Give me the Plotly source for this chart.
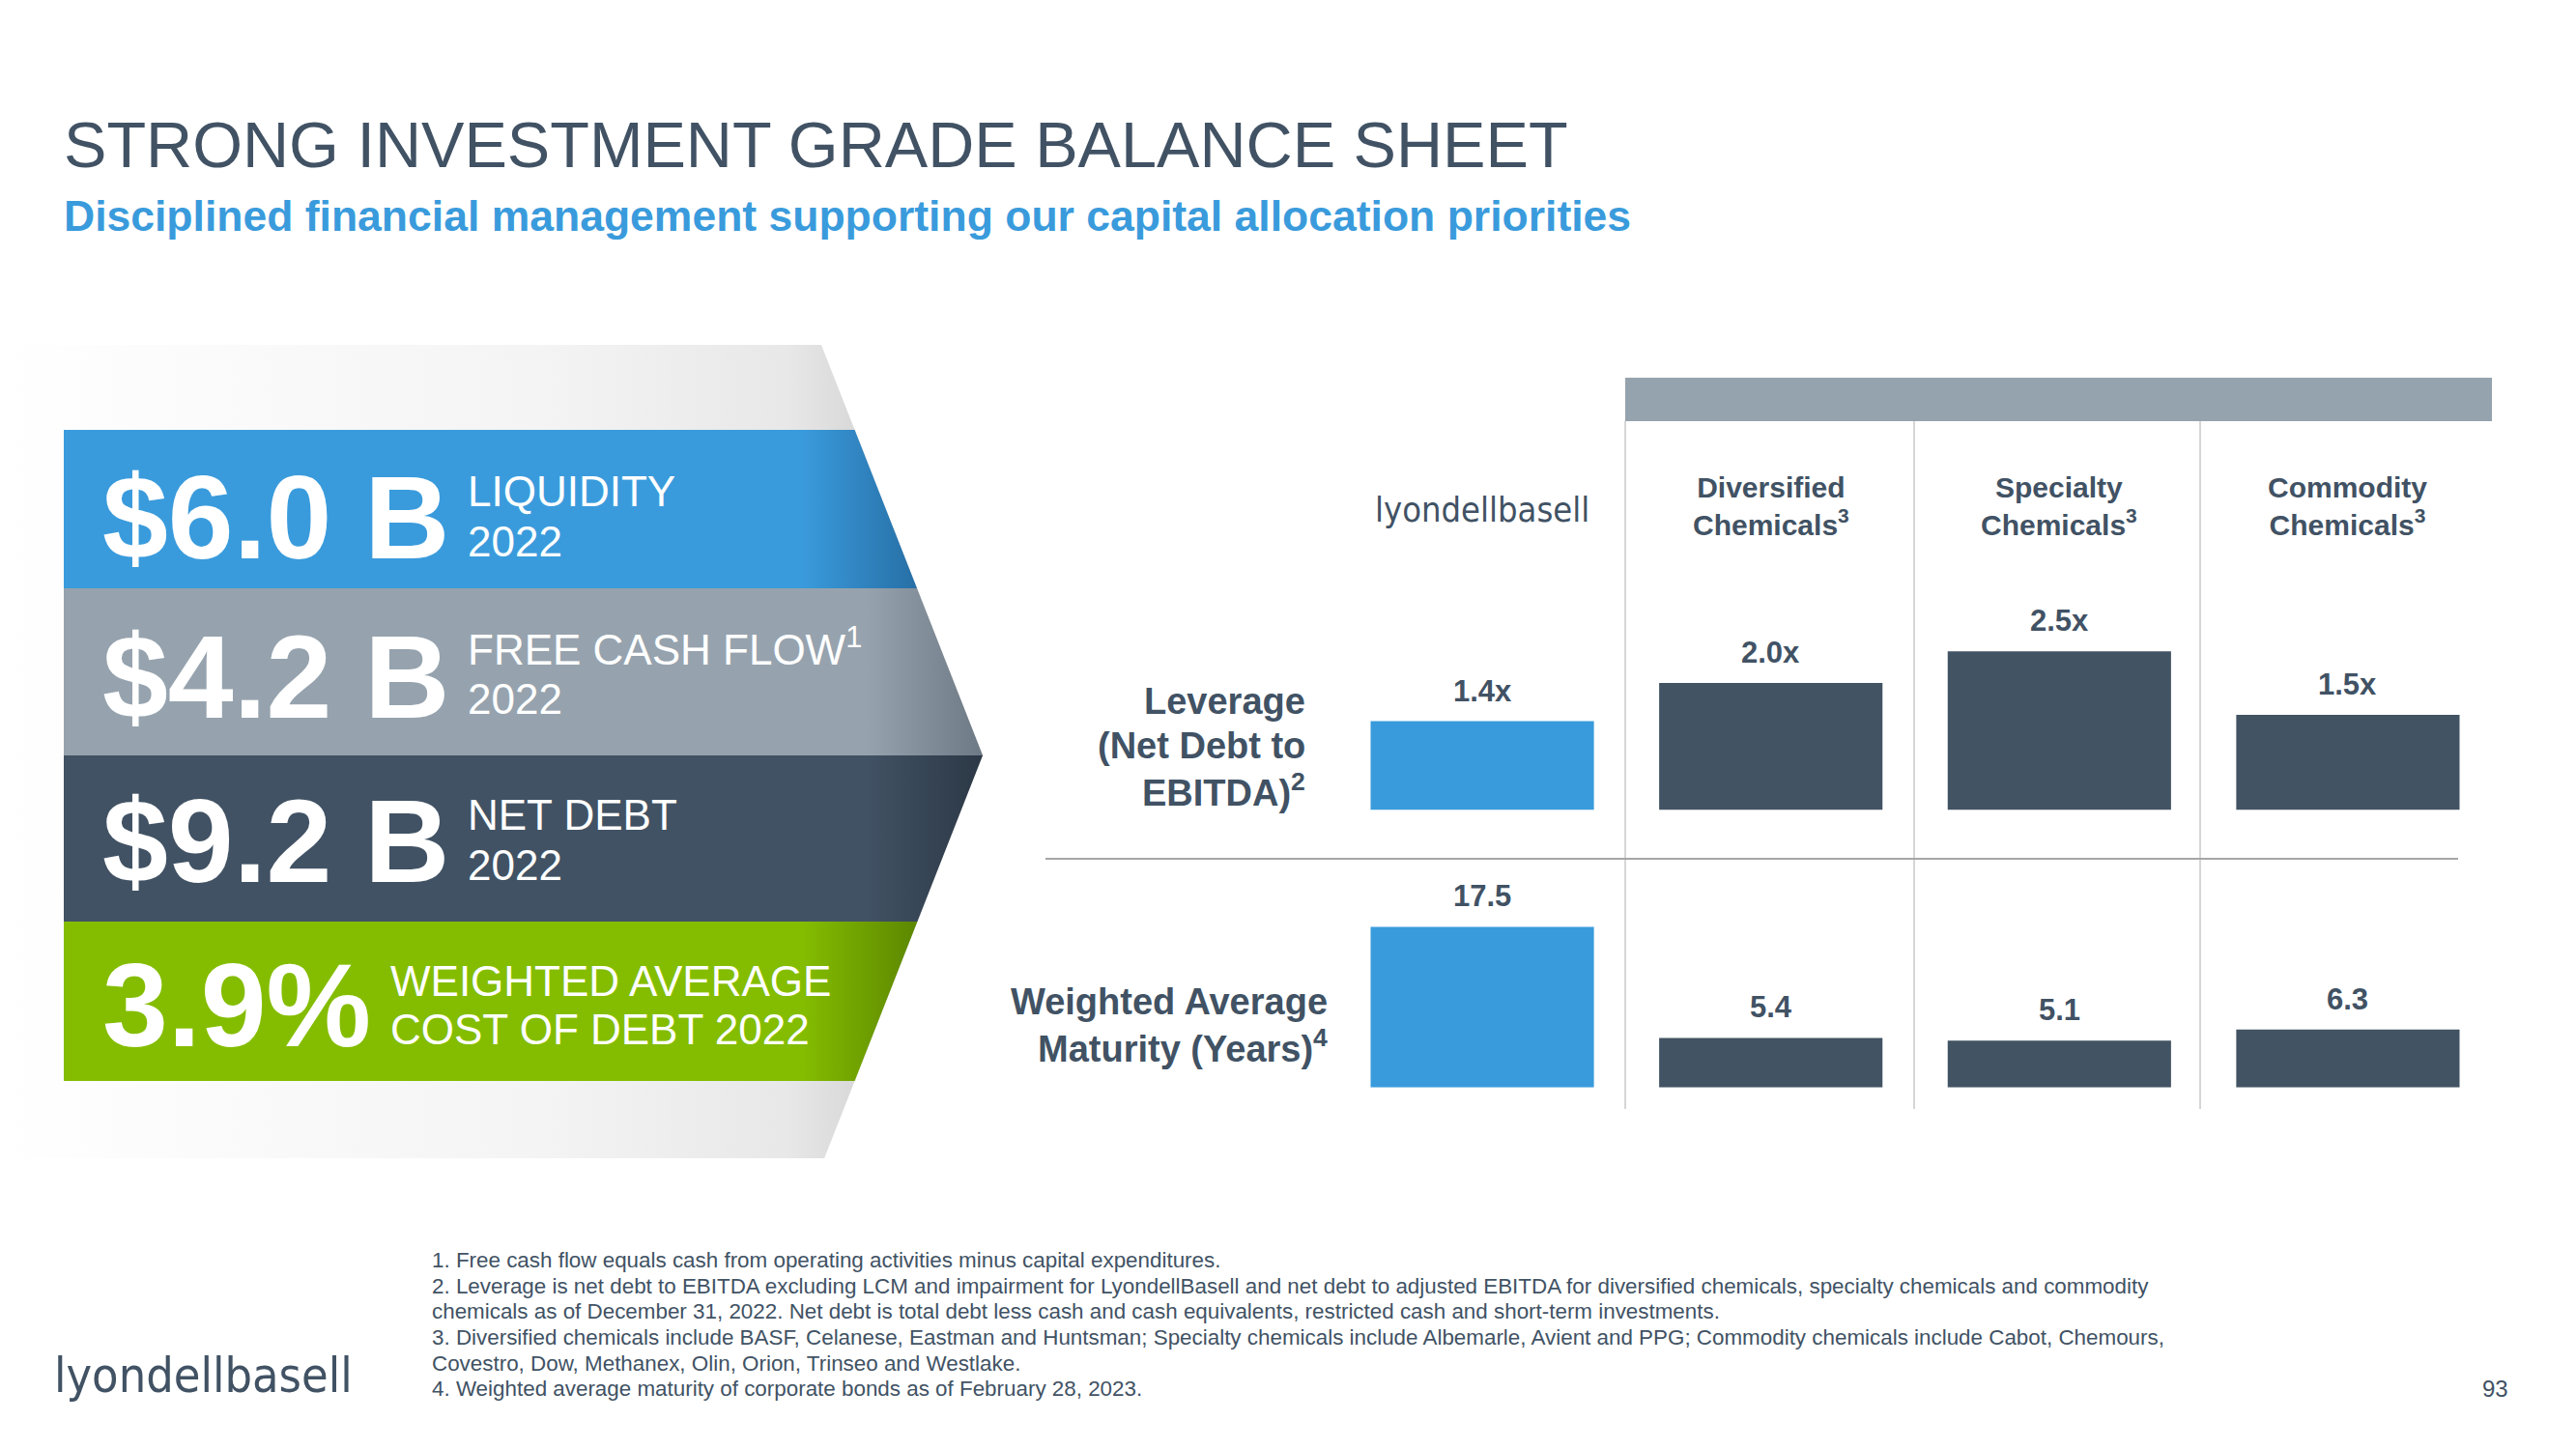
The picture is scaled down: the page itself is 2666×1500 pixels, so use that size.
import plotly.graph_objects as go

# ---------------- data ----------------
companies = ["LyondellBasell", "Diversified Chemicals", "Specialty Chemicals", "Commodity Chemicals"]
header_labels = ["lyondellbasell", "Diversified<br>Chemicals<sup>3</sup>",
                 "Specialty<br>Chemicals<sup>3</sup>", "Commodity<br>Chemicals<sup>3</sup>"]
leverage = [1.4, 2.0, 2.5, 1.5]          # Net debt to EBITDA (x)
maturity = [17.5, 5.4, 5.1, 6.3]          # Weighted average maturity (years)

kpi_values = ["$6.0 B", "$4.2 B", "$9.2 B", "3.9%"]
kpi_line1 = ["LIQUIDITY", "FREE CASH FLOW<sup>1</sup>", "NET DEBT", "WEIGHTED AVERAGE"]
kpi_line2 = ["2022", "2022", "2022", "COST OF DEBT 2022"]

title = "STRONG INVESTMENT GRADE BALANCE SHEET"
subtitle = "Disciplined financial management supporting our capital allocation priorities"
footnotes = [
    "1. Free cash flow equals cash from operating activities minus capital expenditures.",
    "2. Leverage is net debt to EBITDA excluding LCM and impairment for LyondellBasell and net debt to adjusted EBITDA for diversified chemicals, specialty chemicals and commodity",
    "chemicals as of December 31, 2022. Net debt is total debt less cash and cash equivalents, restricted cash and short-term investments.",
    "3. Diversified chemicals include BASF, Celanese, Eastman and Huntsman; Specialty chemicals include Albemarle, Avient and PPG; Commodity chemicals include Cabot, Chemours,",
    "Covestro, Dow, Methanex, Olin, Orion, Trinseo and Westlake.",
    "4. Weighted average maturity of corporate bonds as of February 28, 2023.",
]
page_number = "93"

# ---------------- style ----------------
W, H = 2666, 1500
BLUE = "#3a9bdc"
GRAY = "#96a3ae"
DARK = "#425363"
GREEN = "#84bd00"
TEXT = "#415264"
FONT = "Liberation Sans, Arial, sans-serif"
LOGO_FONT = "DejaVu Sans Condensed, DejaVu Sans, sans-serif"
bar_colors = [BLUE, DARK, DARK, DARK]

def pxx(x):
    return x / W

def pxy(y):
    return 1 - y / H

fig = go.Figure()

# ---------------- left KPI panel (decorative, pixel axis x3/y3) ----------------
tip_x, tip_y = 1017, 782
slope = (1017 - 850) / (782 - 357)

def edge(y):
    return tip_x - slope * abs(y - tip_y)

bg_top, bg_bot = 357, 1199
fig.add_trace(go.Scatter(
    x=[0, edge(bg_top), tip_x, edge(bg_bot), 0, 0],
    y=[bg_top, bg_top, tip_y, bg_bot, bg_bot, bg_top],
    mode="lines", line=dict(width=0), fill="toself",
    fillgradient=dict(type="horizontal", start=0, stop=tip_x,
                      colorscale=[[0, "#ffffff"], [0.55, "#f4f4f4"], [0.8, "#e8e8e8"], [0.9, "#d2d2d2"], [1, "#bdbdbd"]]),
    xaxis="x3", yaxis="y3", hoverinfo="skip", showlegend=False))

band_edges = [445, 609, 782, 954, 1119]
band_colors = [(BLUE, "#276fa6"), (GRAY, "#6d7984"), ("#415264", "#2c3846"), (GREEN, "#5c8700")]
band_left = 66
for i, (c0, c1) in enumerate(band_colors):
    y0, y1 = band_edges[i], band_edges[i + 1]
    xs = [band_left, edge(y0)]
    ys = [y0, y0]
    if y0 < tip_y < y1:
        xs.append(tip_x); ys.append(tip_y)
    xs += [edge(y1), band_left, band_left]
    ys += [y1, y1, y0]
    xr = max(xs)
    fig.add_trace(go.Scatter(
        x=xs, y=ys, mode="lines", line=dict(width=0), fill="toself",
        fillgradient=dict(type="horizontal", start=band_left, stop=xr,
                          colorscale=[[0, c0], [(xr - 120 - band_left) / (xr - band_left), c0], [1, c1]]),
        xaxis="x3", yaxis="y3", hoverinfo="skip", showlegend=False))

annotations = []

def txt(x, y, text, size, color=TEXT, bold=False, xanchor="left", yanchor="middle", family=FONT, **kw):
    annotations.append(dict(
        x=x, y=y, xref="x3", yref="y3", text=text, showarrow=False,
        xanchor=xanchor, yanchor=yanchor,
        font=dict(family=family, size=size, color=color, weight=700 if bold else 400), **kw))

kpi_centers = [532, 697, 867, 1037]
kpi_sub_x = [482, 482, 482, 402]
kpi_sub_dy = [(-24, 28), (-28, 26), (-24, 28), (-22, 28)]
for i in range(4):
    yc = kpi_centers[i]
    txt(104, yc + 4, kpi_values[i], 122, color="white", bold=True)
    txt(kpi_sub_x[i], yc + kpi_sub_dy[i][0], kpi_line1[i], 44, color="white")
    txt(kpi_sub_x[i], yc + kpi_sub_dy[i][1], kpi_line2[i], 44, color="white")

# titles
txt(64, 150, title, 66.6, color=TEXT)
txt(64, 223, subtitle, 44.5, color=BLUE, bold=True)

# row labels
txt(1353, 726, "Leverage", 38, bold=True, xanchor="right")
txt(1353, 772, "(Net Debt to", 38, bold=True, xanchor="right")
txt(1353, 818, "EBITDA)<sup>2</sup>", 38, bold=True, xanchor="right")
txt(1376, 1037, "Weighted Average", 38, bold=True, xanchor="right")
txt(1376, 1083, "Maturity (Years)<sup>4</sup>", 38, bold=True, xanchor="right")

# footnotes
fy = [1304, 1331, 1357, 1384, 1411, 1437]
for line, y in zip(footnotes, fy):
    txt(445, y, line, 22.4)
txt(2598, 1437, page_number, 24, xanchor="right")

# bottom-left logo
txt(54, 1424, "lyondellbasell", 50, family=LOGO_FONT)

# ---------------- column headers ----------------
header_dx = [0, 0, -0.02, 0.01]
for i, lab in enumerate(header_labels):
    if i == 0:
        annotations.append(dict(x=companies[i], y=527, xref="x", yref="y3", text=lab, showarrow=False,
                                xanchor="center", yanchor="middle",
                                font=dict(family=LOGO_FONT, size=36, color=TEXT)))
    else:
        annotations.append(dict(x=companies[i], y=524, xref="x", yref="y3", text=lab, showarrow=False,
                                xanchor="center", yanchor="middle", align="center",
                                font=dict(family=FONT, size=30, color=TEXT, weight=700)))

# ---------------- bars ----------------
fig.add_trace(go.Bar(x=companies, y=leverage, marker=dict(color=bar_colors, line=dict(width=0)),
                     width=0.774, xaxis="x", yaxis="y", showlegend=False, hoverinfo="skip"))
fig.add_trace(go.Bar(x=companies, y=maturity, marker=dict(color=bar_colors, line=dict(width=0)),
                     width=0.774, xaxis="x2", yaxis="y2", showlegend=False, hoverinfo="skip"))

for c, v in zip(companies, leverage):
    annotations.append(dict(x=c, y=v, xref="x", yref="y", text=f"{v:.1f}x", showarrow=False,
                            xanchor="center", yanchor="bottom", yshift=12,
                            font=dict(family=FONT, size=31, color=TEXT, weight=700)))
for c, v in zip(companies, maturity):
    annotations.append(dict(x=c, y=v, xref="x2", yref="y2", text=f"{v:.1f}", showarrow=False,
                            xanchor="center", yanchor="bottom", yshift=12,
                            font=dict(family=FONT, size=31, color=TEXT, weight=700)))

# ---------------- table lines / header bar ----------------
shapes = [
    dict(type="rect", xref="paper", yref="paper", x0=pxx(1682), x1=pxx(2579), y0=pxy(436), y1=pxy(391),
         fillcolor="#95a3ae", line=dict(width=0), layer="below"),
    dict(type="line", xref="paper", yref="paper", x0=pxx(1082), x1=pxx(2544), y0=pxy(889), y1=pxy(889),
         line=dict(color="#a6a6a6", width=2)),
]
for vx in [1682, 1981, 2277]:
    shapes.append(dict(type="line", xref="paper", yref="paper", x0=pxx(vx), x1=pxx(vx),
                       y0=pxy(436), y1=pxy(1148), line=dict(color="#c8c8c8", width=1.5), layer="below"))

xdom = [pxx(1384.75), pxx(2579.25)]
hidden = dict(visible=False, showgrid=False, zeroline=False, fixedrange=True)

fig.update_layout(
    width=W, height=H, autosize=False,
    margin=dict(l=0, r=0, t=0, b=0),
    paper_bgcolor="white", plot_bgcolor="rgba(0,0,0,0)",
    showlegend=False,
    xaxis=dict(domain=xdom, type="category", categoryorder="array", categoryarray=companies,
               range=[-0.5, 3.5], anchor="y", **hidden),
    yaxis=dict(domain=[pxy(838.5), pxy(838.5 - 65.7 * 3)], range=[0, 3], anchor="x", **hidden),
    xaxis2=dict(domain=xdom, type="category", categoryorder="array", categoryarray=companies,
                range=[-0.5, 3.5], anchor="y2", **hidden),
    yaxis2=dict(domain=[pxy(1125.7), pxy(1125.7 - 9.5 * 20)], range=[0, 20], anchor="x2", **hidden),
    xaxis3=dict(domain=[0, 1], range=[0, W], anchor="y3", **hidden),
    yaxis3=dict(domain=[0, 1], range=[H, 0], anchor="x3", **hidden),
    annotations=annotations,
    shapes=shapes,
)

fig.write_html("out.html", config={"displayModeBar": False, "staticPlot": True},
               post_script="document.body.style.margin='0';document.body.style.overflow='hidden';")
